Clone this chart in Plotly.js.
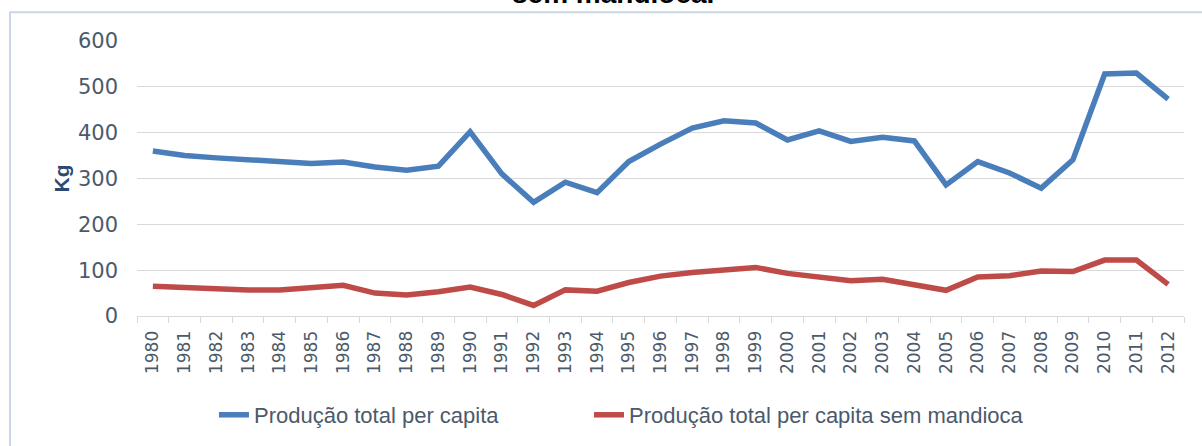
<!DOCTYPE html>
<html>
<head>
<meta charset="utf-8">
<script src="https://cdn.plot.ly/plotly-3.0.1.min.js"></script>
<style>
html,body{margin:0;padding:0;background:#ffffff;}
#chart{width:1202px;height:446px;}
</style>
</head>
<body>
<div id="chart"></div>
<script>
const years = ["1980","1981","1982","1983","1984","1985","1986","1987","1988","1989","1990","1991","1992","1993","1994","1995","1996","1997","1998","1999","2000","2001","2002","2003","2004","2005","2006","2007","2008","2009","2010","2011","2012"];
const producaoTotal = [360,350,345,340,337,333,336,325,318,327,402,310,248,292,269,337,375,410,426,421,384,404,381,390,382,286,337,312,279,341,528,530,473];
const producaoSemMandioca = [65,62,60,57,57,62,67,50,46,53,63,47,23,57,54,73,87,95,100,106,93,85,77,80,68,56,85,88,98,97,122,122,69];
const seriesNames = ["Produção total per capita","Produção total per capita sem mandioca"];
const yTicks = [0,100,200,300,400,500,600];
const titleText = "sem mandioca.";
const yTitle = "Kg";

const tickColor = "#4b5a6b";

const traces = [
  {x: years, y: producaoTotal, name: seriesNames[0], type: "scatter", mode: "lines",
   line: {color: "#4a7ebb", width: 5.5}, legend: "legend"},
  {x: years, y: producaoSemMandioca, name: seriesNames[1], type: "scatter", mode: "lines",
   line: {color: "#be4b48", width: 5.5}, legend: "legend2"}
];

const legendFont = {size: 22, color: tickColor, family: "Liberation Sans, Arial, sans-serif"};

const layout = {
  width: 1202, height: 446,
  margin: {l: 137, r: 18, t: 41, b: 129},
  paper_bgcolor: "#ffffff",
  plot_bgcolor: "rgba(0,0,0,0)",
  font: {family: "Liberation Sans, Arial, sans-serif", color: tickColor},
  xaxis: {
    type: "category", range: [-0.5, years.length - 0.5],
    tickangle: -90, tickfont: {size: 17, color: tickColor, family: "DejaVu Sans, sans-serif"},
    showgrid: false, showline: true, linecolor: "#d9d9d9", linewidth: 1,
    ticks: "outside", tickson: "boundaries", ticklen: 6, tickcolor: "#d9d9d9",
    ticklabelstandoff: 7,
    zeroline: false, fixedrange: true
  },
  yaxis: {
    range: [0, 600], tickvals: yTicks, ticktext: yTicks.map(String),
    tickfont: {size: 21, color: tickColor, family: "DejaVu Sans, sans-serif"},
    showgrid: true, gridcolor: "#d9d9d9", gridwidth: 1,
    zeroline: false, showline: false, ticks: "", ticklabelstandoff: 18,
    title: {text: "<b>" + yTitle + "</b>", font: {size: 21, color: "#2c4a6e"}, standoff: 2},
    automargin: false, fixedrange: true
  },
  showlegend: true,
  legend: {orientation: "h", x: 0.0735, xanchor: "left", y: -0.355, yanchor: "middle",
           font: legendFont, bgcolor: "rgba(0,0,0,0)"},
  legend2: {orientation: "h", x: 0.4317, xanchor: "left", y: -0.355, yanchor: "middle",
           font: legendFont, bgcolor: "rgba(0,0,0,0)"},
  annotations: [
    {text: "<b>" + titleText + "</b>", xref: "paper", yref: "paper",
     x: 0.4546, y: (317 + 7) / 276, xanchor: "center", yanchor: "middle", showarrow: false,
     font: {size: 28, color: "#000000", family: "Liberation Sans, Arial, sans-serif"}}
  ],
  shapes: [
    {type: "rect", xref: "paper", yref: "paper", x0: -0.1213, x1: 1.03, y0: -0.5, y1: 1.105,
     line: {color: "#c9d6e3", width: 2}, fillcolor: "rgba(0,0,0,0)", layer: "below"}
  ]
};

Plotly.newPlot("chart", traces, layout, {displayModeBar: false, staticPlot: true});
</script>
</body>
</html>
